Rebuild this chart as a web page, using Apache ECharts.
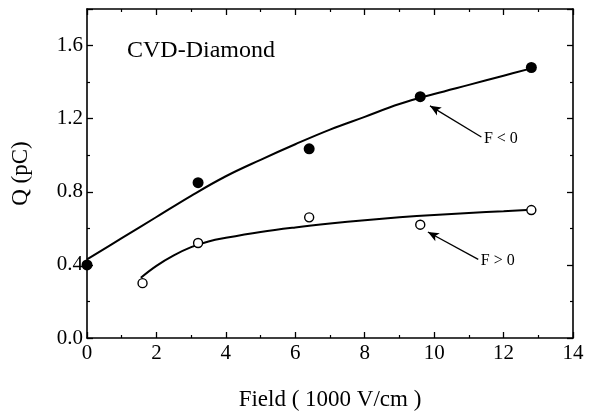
<!DOCTYPE html>
<html>
<head>
<meta charset="utf-8">
<script src="https://cdn.jsdelivr.net/npm/echarts@6/dist/echarts.min.js"></script>
<style>
  html, body { margin: 0; padding: 0; background: #fff; }
  #chart { width: 601px; height: 416px; }
</style>
</head>
<body>
<div id="chart"></div>
<script>
// Measured collected charge for both field polarities
const negX = [0, 3.2, 6.4, 9.6, 12.8];
const negQ = [0.40, 0.85, 1.035, 1.32, 1.48];
const posX = [1.6, 3.2, 6.4, 9.6, 12.8];
const posQ = [0.30, 0.52, 0.66, 0.62, 0.70];

// Fitted curves through each data set
const negFitX = [0, 1, 2, 3, 4, 5, 6, 7, 8, 9, 10, 11, 12, 12.8];
const negFitQ = [0.43, 0.546, 0.662, 0.778, 0.885, 0.975, 1.06, 1.14, 1.21, 1.28, 1.335, 1.385, 1.435, 1.475];
const posFitX = [1.55, 2, 2.5, 3, 3.5, 4, 5, 6, 7, 8, 9, 10, 11, 12, 12.8];
const posFitQ = [0.33, 0.395, 0.452, 0.497, 0.528, 0.548, 0.58, 0.605, 0.626, 0.644, 0.66, 0.673, 0.684, 0.694, 0.702];

// Annotation arrows: [tipX, tipQ, tailX, tailQ]
const negArrow = [9.88, 1.27, 11.36, 1.10];
const posArrow = [9.82, 0.58, 11.27, 0.43];
const negLabel = 'F < 0';
const posLabel = 'F > 0';
const sampleLabel = 'CVD-Diamond';

const zip = (xs, ys) => xs.map((x, i) => [x, ys[i]]);
const serif = '"Liberation Serif", "DejaVu Serif", serif';

const chart = echarts.init(document.getElementById('chart'), null, { renderer: 'canvas' });

const xCommon = {
  type: 'value', min: 0, max: 14, interval: 2,
  axisLine: { show: true, onZero: false, lineStyle: { color: '#000', width: 1.6 } },
  axisTick: { show: true, inside: true, length: 6, lineStyle: { color: '#000', width: 1.3 } },
  minorTick: { show: true, splitNumber: 2, length: 3, lineStyle: { color: '#000', width: 1.2 } },
  splitLine: { show: false }
};
const yCommon = {
  type: 'value', min: 0, max: 1.8, interval: 0.4,
  axisLine: { show: true, onZero: false, lineStyle: { color: '#000', width: 1.6 } },
  axisTick: { show: true, inside: true, length: 6, lineStyle: { color: '#000', width: 1.3 } },
  minorTick: { show: true, splitNumber: 2, length: 3, lineStyle: { color: '#000', width: 1.2 } },
  splitLine: { show: false }
};

function arrowLine(a, text) {
  return {
    silent: true,
    symbol: ['none', 'arrow'],
    symbolSize: [7, 11],
    lineStyle: { color: '#000', width: 1.3, type: 'solid' },
    label: {
      show: true, position: 'start', formatter: text,
      color: '#000', fontFamily: serif, fontSize: 16, distance: 3
    },
    emphasis: { disabled: true },
    data: [[
      { coord: [a[2], a[3]] },
      { coord: [a[0], a[1]] }
    ]]
  };
}

chart.setOption({
  animation: false,
  backgroundColor: '#fff',
  grid: { left: 87, right: 28, top: 9, bottom: 77 },
  xAxis: [
    Object.assign({}, xCommon, {
      position: 'bottom',
      name: 'Field ( 1000 V/cm )',
      nameLocation: 'middle', nameGap: 50,
      nameTextStyle: { color: '#000', fontFamily: serif, fontSize: 23 },
      axisLabel: { color: '#000', fontFamily: serif, fontSize: 21, margin: 5 }
    }),
    Object.assign({}, xCommon, { position: 'top', axisLabel: { show: false } })
  ],
  yAxis: [
    Object.assign({}, yCommon, {
      position: 'left',
      name: 'Q (pC)',
      nameLocation: 'middle', nameGap: 55,
      nameTextStyle: { color: '#000', fontFamily: serif, fontSize: 23 },
      axisLabel: {
        color: '#000', fontFamily: serif, fontSize: 21, margin: 4,
        showMaxLabel: false,
        formatter: v => v.toFixed(1)
      }
    }),
    Object.assign({}, yCommon, { position: 'right', axisLabel: { show: false } })
  ],
  graphic: [{
    type: 'text', left: 127, top: 39,
    style: { text: sampleLabel, fill: '#000', font: '24px ' + serif }
  }],
  series: [
    {
      type: 'line', data: zip(negFitX, negFitQ), smooth: 0.4,
      showSymbol: false, lineStyle: { color: '#000', width: 2 }, silent: true, z: 2
    },
    {
      type: 'line', data: zip(posFitX, posFitQ), smooth: 0.4,
      showSymbol: false, lineStyle: { color: '#000', width: 2 }, silent: true, z: 2
    },
    {
      type: 'scatter', data: zip(negX, negQ), symbol: 'circle', symbolSize: 11,
      itemStyle: { color: '#000', opacity: 1 }, z: 3,
      markLine: arrowLine(negArrow, negLabel)
    },
    {
      type: 'scatter', data: zip(posX, posQ), symbol: 'circle', symbolSize: 9,
      itemStyle: { color: '#fff', borderColor: '#000', borderWidth: 1.4, opacity: 1 }, z: 3,
      markLine: arrowLine(posArrow, posLabel)
    }
  ]
});
</script>
</body>
</html>
